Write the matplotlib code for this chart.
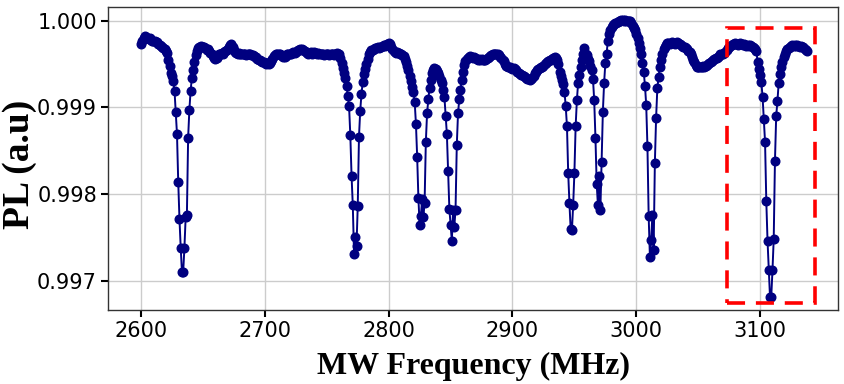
import numpy as np
import matplotlib
matplotlib.use("Agg")
import matplotlib.pyplot as plt
from matplotlib.patches import Rectangle

# MW sweep, 1 MHz step
freq_start = 2600
pl = [
    # 2600
    0.99973, 0.99976, 0.99980, 0.99982, 0.99981, 0.99980, 0.99979, 0.99980, 0.99978, 0.99977,
    0.99977, 0.99976, 0.99975, 0.99975, 0.99973, 0.99972, 0.99971, 0.99969, 0.99968, 0.99967,
    0.99965, 0.99963, 0.99955, 0.99948, 0.99940, 0.99936, 0.99930, 0.99919, 0.99895, 0.99869,
    0.99814, 0.99771, 0.99738, 0.99710, 0.99710, 0.99738, 0.99773, 0.99776, 0.99865, 0.99897,
    0.99919, 0.99934, 0.99943, 0.99952, 0.99960, 0.99965, 0.99968, 0.99970, 0.99971, 0.99970,
    # 2650
    0.99969, 0.99970, 0.99968, 0.99966, 0.99967, 0.99965, 0.99963, 0.99961, 0.99959, 0.99957,
    0.99956, 0.99957, 0.99959, 0.99961, 0.99962, 0.99963, 0.99962, 0.99964, 0.99965, 0.99966,
    0.99967, 0.99969, 0.99972, 0.99973, 0.99969, 0.99966, 0.99964, 0.99963, 0.99962, 0.99963,
    0.99962, 0.99961, 0.99962, 0.99961, 0.99962, 0.99960, 0.99961, 0.99962, 0.99961, 0.99960,
    0.99960, 0.99959, 0.99958, 0.99958, 0.99956, 0.99955, 0.99954, 0.99953, 0.99952, 0.99952,
    # 2700
    0.99951, 0.99950, 0.99951, 0.99950, 0.99951, 0.99953, 0.99956, 0.99959, 0.99960, 0.99961,
    0.99962, 0.99961, 0.99962, 0.99960, 0.99959, 0.99958, 0.99958, 0.99959, 0.99961, 0.99962,
    0.99961, 0.99962, 0.99963, 0.99964, 0.99963, 0.99964, 0.99965, 0.99966, 0.99967, 0.99966,
    0.99967, 0.99966, 0.99965, 0.99964, 0.99963, 0.99962, 0.99963, 0.99964, 0.99962, 0.99963,
    0.99964, 0.99963, 0.99962, 0.99963, 0.99962, 0.99961, 0.99962, 0.99961, 0.99960, 0.99961,
    # 2750
    0.99962, 0.99961, 0.99960, 0.99961, 0.99962, 0.99961, 0.99960, 0.99962, 0.99963, 0.99962,
    0.99961, 0.99957, 0.99951, 0.99945, 0.99940, 0.99934, 0.99924, 0.99913, 0.99901, 0.99868,
    0.99821, 0.99787, 0.99731, 0.99750, 0.99740, 0.99786, 0.99866, 0.99896, 0.99915, 0.99929,
    0.99938, 0.99944, 0.99950, 0.99956, 0.99962, 0.99964, 0.99966, 0.99966, 0.99967, 0.99968,
    0.99968, 0.99969, 0.99968, 0.99969, 0.99970, 0.99971, 0.99972, 0.99971, 0.99972, 0.99973,
    # 2800
    0.99974, 0.99973, 0.99970, 0.99967, 0.99965, 0.99964, 0.99963, 0.99964, 0.99963, 0.99962,
    0.99961, 0.99960, 0.99959, 0.99956, 0.99952, 0.99948, 0.99943, 0.99936, 0.99930, 0.99923,
    0.99918, 0.99906, 0.99881, 0.99843, 0.99795, 0.99764, 0.99775, 0.99794, 0.99773, 0.99790,
    0.99860, 0.99893, 0.99909, 0.99922, 0.99931, 0.99939, 0.99943, 0.99945, 0.99944, 0.99942,
    0.99939, 0.99936, 0.99932, 0.99928, 0.99920, 0.99912, 0.99890, 0.99869, 0.99826, 0.99783,
    # 2850
    0.99764, 0.99746, 0.99781, 0.99762, 0.99782, 0.99856, 0.99893, 0.99909, 0.99920, 0.99931,
    0.99941, 0.99949, 0.99953, 0.99956, 0.99957, 0.99958, 0.99959, 0.99958, 0.99957, 0.99958,
    0.99957, 0.99956, 0.99955, 0.99956, 0.99955, 0.99956, 0.99955, 0.99954, 0.99955, 0.99956,
    0.99957, 0.99958, 0.99959, 0.99960, 0.99961, 0.99962, 0.99961, 0.99962, 0.99961, 0.99960,
    0.99958, 0.99957, 0.99955, 0.99953, 0.99950, 0.99948, 0.99946, 0.99947, 0.99946, 0.99945,
    # 2900
    0.99944, 0.99945, 0.99944, 0.99943, 0.99941, 0.99940, 0.99938, 0.99937, 0.99937, 0.99936,
    0.99935, 0.99934, 0.99933, 0.99933, 0.99932, 0.99933, 0.99934, 0.99936, 0.99939, 0.99941,
    0.99943, 0.99944, 0.99945, 0.99946, 0.99947, 0.99948, 0.99950, 0.99951, 0.99952, 0.99953,
    0.99954, 0.99955, 0.99956, 0.99957, 0.99958, 0.99957, 0.99955, 0.99950, 0.99941, 0.99936,
    0.99932, 0.99927, 0.99918, 0.99901, 0.99878, 0.99824, 0.99789, 0.99759, 0.99758, 0.99787,
    # 2950
    0.99824, 0.99878, 0.99908, 0.99928, 0.99937, 0.99947, 0.99955, 0.99962, 0.99968, 0.99962,
    0.99960, 0.99956, 0.99953, 0.99948, 0.99943, 0.99933, 0.99908, 0.99865, 0.99812, 0.99787,
    0.99821, 0.99782, 0.99837, 0.99895, 0.99928, 0.99951, 0.99962, 0.99976, 0.99985, 0.99989,
    0.99993, 0.99995, 0.99996, 0.99997, 0.99997, 0.99998, 0.99999, 1.00000, 1.00001, 1.00001,
    1.00000, 1.00001, 1.00000, 1.00000, 0.99999, 1.00000, 0.99997, 0.99994, 0.99991, 0.99989,
    # 3000
    0.99985, 0.99980, 0.99974, 0.99968, 0.99962, 0.99951, 0.99941, 0.99925, 0.99903, 0.99855,
    0.99774, 0.99727, 0.99747, 0.99776, 0.99735, 0.99836, 0.99888, 0.99922, 0.99935, 0.99947,
    0.99955, 0.99962, 0.99967, 0.99970, 0.99972, 0.99974, 0.99974, 0.99973, 0.99974, 0.99975,
    0.99974, 0.99973, 0.99974, 0.99975, 0.99974, 0.99973, 0.99972, 0.99971, 0.99970, 0.99970,
    0.99968, 0.99967, 0.99965, 0.99964, 0.99961, 0.99958, 0.99955, 0.99952, 0.99949, 0.99947,
    # 3050
    0.99946, 0.99947, 0.99946, 0.99947, 0.99948, 0.99947, 0.99948, 0.99949, 0.99950, 0.99951,
    0.99952, 0.99953, 0.99954, 0.99956, 0.99957, 0.99957, 0.99958, 0.99959, 0.99961, 0.99962,
    0.99962, 0.99963, 0.99964, 0.99966, 0.99968, 0.99970, 0.99971, 0.99972, 0.99973, 0.99973,
    0.99974, 0.99973, 0.99972, 0.99973, 0.99974, 0.99973, 0.99972, 0.99973, 0.99972, 0.99971,
    0.99972, 0.99971, 0.99972, 0.99971, 0.99970, 0.99968, 0.99967, 0.99965, 0.99952, 0.99944,
    # 3100
    0.99937, 0.99929, 0.99912, 0.99886, 0.99860, 0.99792, 0.99746, 0.99712, 0.99681, 0.99681,
    0.99712, 0.99748, 0.99838, 0.99890, 0.99907, 0.99928, 0.99938, 0.99946, 0.99952, 0.99958,
    0.99962, 0.99965, 0.99967, 0.99968, 0.99970, 0.99971, 0.99972, 0.99971, 0.99972, 0.99971,
    0.99972, 0.99971, 0.99970, 0.99971, 0.99970, 0.99969, 0.99967, 0.99966, 0.99965,
]
freq = np.arange(freq_start, freq_start + len(pl))

xticks = [2600, 2700, 2800, 2900, 3000, 3100]
yticks = [0.997, 0.998, 0.999, 1.000]
xlabel = "MW Frequency (MHz)"
ylabel = "PL (a.u)"

# highlight box (data coords)
box_x0, box_x1 = 3073, 3144
box_y0, box_y1 = 0.99674, 0.99992

fig = plt.figure(figsize=(8.44, 3.84), dpi=100)
ax = fig.add_axes([0.128, 0.193, 0.865, 0.789])

ax.plot(freq, pl, color="#000080", marker="o", markersize=6.2, linewidth=1.4, zorder=3)

ax.add_patch(Rectangle((box_x0, box_y0), box_x1 - box_x0, box_y1 - box_y0,
                       fill=False, edgecolor="red", linewidth=2.6,
                       linestyle=(0, (5, 3)), zorder=4))

ax.set_xlim(2573.3, 3163.0)
ax.set_ylim(0.996662, 1.000158)
ax.set_xticks(xticks)
ax.set_yticks(yticks)
ax.set_yticklabels([f"{v:.3f}" for v in yticks])
ax.grid(True, color="#cccccc", linewidth=1.0, zorder=0)
ax.set_axisbelow(True)

tick_font = ["DejaVu Sans Condensed", "Liberation Sans Narrow", "DejaVu Sans"]
for lab in ax.get_xticklabels() + ax.get_yticklabels():
    lab.set_family(tick_font)
    lab.set_fontsize(15)
ax.tick_params(direction="out", length=5, width=1.5, color="black", pad=3)

for s in ax.spines.values():
    s.set_color("#333333")
    s.set_linewidth(1.0)

ax.set_xlabel(xlabel, family=["Liberation Serif", "DejaVu Serif"], fontweight="bold",
              fontsize=23, labelpad=8)
ax.set_ylabel(ylabel, family=["Liberation Serif", "DejaVu Serif"], fontweight="bold",
              fontsize=27)
ax.yaxis.set_label_coords(-0.097, 0.48)

fig.savefig("out.png", dpi=100)
